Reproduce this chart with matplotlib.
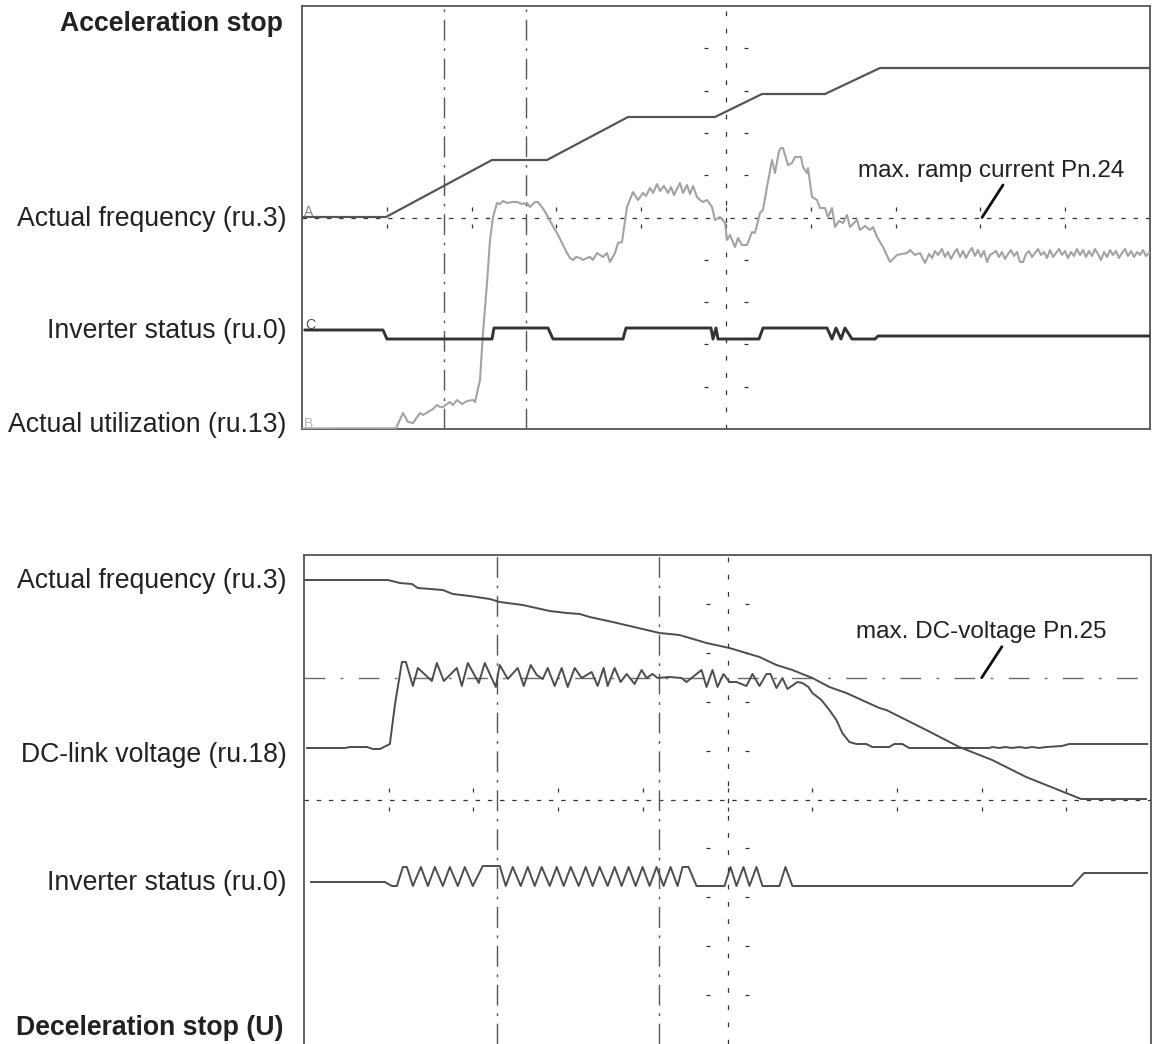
import matplotlib
matplotlib.use('Agg')
import matplotlib.pyplot as plt

plt.rcParams['font.family'] = ['Liberation Sans', 'DejaVu Sans']
plt.rcParams['lines.scale_dashes'] = False

# ---------------- data (time in samples, level in scope counts) ----------------
# Top panel: acceleration stop
acc_freq_t = [0, 84, 190, 245, 326, 413, 460, 523, 578, 848]
acc_freq_v = [212, 212, 269, 269, 312, 312, 335, 335, 361, 361]

acc_stat_t = [3, 81, 85, 190, 192, 246, 251, 321, 324, 409, 411, 414, 416, 457, 461,
              525, 530, 534, 539, 543, 550, 573, 576, 848]
acc_stat_v = [99, 99, 90, 90, 101, 101, 90, 90, 101, 101, 90, 101, 90, 90, 101,
              101, 90, 101, 90, 101, 90, 90, 93, 93]

acc_util_t = [0, 94, 101, 106, 111, 118, 121, 126, 131, 135, 138, 141, 145, 148, 151, 155, 160, 165,
              171, 173, 178, 181, 185, 188, 191, 195, 198, 201, 205, 210, 215, 220, 225, 228, 233, 236,
              242, 246, 253, 255, 260, 265, 268, 271, 274, 278, 281, 285, 288, 291, 295, 301, 305, 308,
              313, 316, 320, 325, 331, 336, 341, 344, 348, 351, 355, 358, 362, 366, 369, 372, 375, 378,
              381, 385, 388, 391, 395, 398, 401, 405, 410, 413, 418, 423, 425, 428, 433, 436, 440, 445,
              450, 453, 458, 461, 465, 470, 473, 477, 479, 481, 486, 490, 493, 499, 501, 505, 506, 510,
              515, 518, 523, 526, 530, 533, 537, 541, 545, 548, 555, 558, 563, 568, 571, 575, 578, 581,
              588, 595, 605, 608, 613, 618, 623, 627, 630, 633, 636, 640, 643, 646, 649, 652, 655, 658,
              661, 664, 667, 670, 673, 676, 679, 682, 685, 688, 691, 694, 697, 700, 703, 706, 709, 712,
              715, 718, 721, 724, 727, 730, 733, 736, 739, 742, 745, 748, 751, 754, 757, 760, 763, 766,
              769, 772, 775, 778, 781, 784, 787, 790, 793, 796, 799, 802, 805, 808, 811, 814, 817, 820,
              823, 826, 829, 832, 835, 838, 841, 844, 847]
acc_util_v = [0.5, 0.7, 16, 7, 6, 16, 14, 17, 20, 24, 22, 22, 25, 27, 24, 29, 25, 28,
              29, 27, 49, 96, 146, 189, 212, 226, 225, 228, 226, 227, 227, 225, 226, 222, 227, 227,
              219, 212, 199, 196, 186, 176, 171, 169, 172, 171, 169, 171, 172, 169, 176, 172, 176, 167,
              176, 186, 187, 222, 237, 229, 236, 233, 241, 236, 245, 238, 243, 236, 242, 234, 240, 246,
              236, 244, 235, 243, 232, 229, 227, 229, 222, 209, 212, 206, 189, 194, 182, 191, 184, 184,
              197, 196, 216, 219, 242, 269, 256, 278, 281, 281, 264, 266, 272, 272, 262, 256, 261, 232,
              229, 221, 221, 212, 221, 202, 208, 206, 214, 202, 209, 199, 203, 199, 202, 192, 187, 182,
              167, 174, 176, 179, 174, 176, 166, 175, 171, 178, 174, 180, 172, 177, 170, 176, 180, 172,
              178, 171, 177, 181, 173, 179, 172, 178, 167, 174, 176, 178, 172, 177, 170, 175, 179, 173,
              177, 167, 167, 175, 178, 172, 176, 180, 174, 177, 171, 179, 172, 176, 180, 174, 178, 171,
              177, 173, 180, 174, 179, 172, 178, 173, 180, 175, 169, 177, 172, 179, 174, 178, 171, 176,
              180, 173, 178, 172, 177, 174, 179, 173, 176]

acc_cursors = [142, 224]
ramp_current_level = 211.5

# Bottom panel: deceleration stop
dec_freq_t = [0, 84, 96, 108, 114, 139, 149, 166, 186, 196, 219, 246, 263, 276, 286, 309, 356, 376,
              403, 426, 456, 473, 489, 509, 526, 543, 576, 583, 623, 656, 689, 723, 763, 778, 843]
dec_freq_v = [464, 464, 461, 460, 456, 454, 450, 448, 445, 442, 439, 433, 431, 430, 427, 422, 411, 409,
              401, 396, 387, 379, 374, 366, 357, 351, 336, 334, 314, 297, 284, 267, 251, 245, 245]

dec_dc_t = [3, 41, 46, 63, 69, 76, 86, 91, 98, 102, 109, 114, 128, 133, 140, 153, 158, 164, 175, 181,
            192, 196, 204, 214, 220, 227, 233, 239, 244, 251, 258, 264, 271, 278, 288, 294, 300, 304,
            311, 317, 323, 331, 338, 343, 349, 354, 366, 378, 383, 398, 403, 409, 414, 420, 426, 433,
            443, 449, 456, 463, 467, 473, 479, 484, 494, 499, 505, 509, 518, 526, 533, 539, 546, 553,
            563, 569, 586, 591, 599, 606, 686, 689, 696, 702, 709, 716, 723, 729, 736, 743, 759, 766, 844]
dec_dc_v = [296, 296, 297, 297, 295, 295, 300, 339, 382, 382, 358, 376, 363, 381, 363, 376, 358, 381,
            361, 381, 357, 379, 365, 376, 358, 379, 369, 365, 376, 358, 376, 357, 376, 366, 372, 358,
            376, 358, 376, 362, 370, 360, 374, 366, 370, 366, 367, 366, 362, 374, 357, 374, 357, 370,
            362, 362, 358, 370, 358, 370, 370, 356, 366, 355, 362, 361, 357, 351, 344, 334, 324, 311,
            302, 300, 300, 297, 297, 300, 300, 296, 296, 297, 296, 297, 296, 297, 296, 297, 296, 297,
            298, 300, 300]

dec_stat_t = [7, 81, 88, 93, 99, 103, 109, 117, 124, 131, 139, 146, 154, 161, 169, 179, 196, 202,
              209, 217, 224, 231, 238, 246, 253, 260, 267, 275, 282, 289, 296, 304, 311, 318, 325,
              332, 339, 346, 353, 360, 367, 374, 379, 385, 393, 421, 427, 433, 440, 446, 453, 459,
              476, 482, 489, 769, 781, 844]
dec_stat_v = [162, 162, 158, 158, 177, 177, 158, 177, 158, 177, 158, 177, 158, 177, 158, 178, 178, 158,
              177, 158, 177, 158, 177, 158, 177, 158, 177, 158, 177, 158, 177, 158, 177, 158, 177,
              158, 177, 158, 177, 158, 177, 158, 177, 177, 158, 158, 177, 158, 177, 158, 177, 158,
              158, 177, 158, 158, 171, 171]

dec_cursors = [193, 355]
dc_voltage_level = 366.3

# ---------------- figure ----------------
W, H = 1152, 1044
fig = plt.figure(figsize=(W / 100, H / 100), dpi=100)

ax1 = fig.add_axes([302 / W, 1 - 429 / H, 848 / W, 423 / H])
ax2 = fig.add_axes([304 / W, 0, 847 / W, 489 / H])

GRID = '#333333'
DOT_H = (0, (3.2, 5.6))
DOT_V = (0, (3.4, 9.0))
DASHDOT = (0, (15, 5.5, 2, 5.5))


def scope(ax, xmax, ymax, hdots, vdots, tick_y, tick_x):
    ax.set_xlim(0, xmax)
    ax.set_ylim(0, ymax)
    ax.set_xticks([])
    ax.set_yticks([])
    for s in ax.spines.values():
        s.set_color('#555555')
        s.set_linewidth(1.3)
    dx, dy = xmax / 10, ymax / 10
    xc, yc = xmax / 2, ymax / 2
    ax.axhline(yc, color=GRID, lw=0.9, ls=hdots, zorder=1)
    ax.axvline(xc, color=GRID, lw=0.9, ls=vdots, zorder=1)
    xs = [k * dx for k in range(1, 10)]
    ys = [k * dy for k in range(1, 10) if k != 5]
    for sgn in (1, -1):
        ax.plot(xs, [yc + sgn * tick_y * dy] * len(xs), ls='none', marker='|',
                ms=3.4, mew=0.9, color=GRID, zorder=1)
        ax.plot([xc + sgn * tick_x * dx] * len(ys), ys, ls='none', marker='_',
                ms=3.4, mew=0.9, color=GRID, zorder=1)


scope(ax1, 848, 423, DOT_H, DOT_V, 0.2, 0.23)
scope(ax2, 848, 489, DOT_H, DOT_V, 0.2, 0.23)
ax2.spines['bottom'].set_visible(False)

# cursors
for c in acc_cursors:
    ax1.axvline(c, color='#555555', lw=1.0, ls=DASHDOT, zorder=1)
for c in dec_cursors:
    ax2.axvline(c, color='#555555', lw=1.0, ls=DASHDOT, zorder=1)
ax2.axhline(dc_voltage_level, color='#6a6a6a', lw=1.0,
            ls=(0, (15, 11, 2, 11)), zorder=1)

# top traces
ax1.plot(acc_util_t, acc_util_v, color='#a3a3a3', lw=1.5, zorder=3)
ax1.plot(acc_freq_t, acc_freq_v, color='#555555', lw=1.6, zorder=4)
ax1.plot(acc_stat_t, acc_stat_v, color='#333333', lw=2.1, zorder=4)

# bottom traces
ax2.plot(dec_freq_t, dec_freq_v, color='#4d4d4d', lw=1.4, zorder=3)
ax2.plot(dec_dc_t, dec_dc_v, color='#4d4d4d', lw=1.4, zorder=3)
ax2.plot(dec_stat_t, dec_stat_v, color='#4d4d4d', lw=1.4, zorder=3)

# channel letters
ax1.text(2, ramp_current_level + 1, 'A', fontsize=10, color='#888888', va='baseline')
ax1.text(3, 100, 'C', fontsize=10, color='#555555', va='baseline')
ax1.text(2, 0.5, 'B', fontsize=10, color='#b5b5b5', va='baseline', clip_on=False)

# annotations
ax1.text(556, 252, 'max. ramp current Pn.24', fontsize=17.5, color='#222222', va='baseline')
ax1.annotate('', xy=(680, ramp_current_level), xytext=(701, 244),
             arrowprops=dict(arrowstyle='-', lw=2, color='#111111', shrinkA=0, shrinkB=0))
ax2.text(553, 405.7, 'max. DC-voltage Pn.25', fontsize=17.5, color='#222222', va='baseline')
ax2.annotate('', xy=(678.5, dc_voltage_level), xytext=(698.7, 397.3),
             arrowprops=dict(arrowstyle='-', lw=2, color='#111111', shrinkA=0, shrinkB=0))

# left labels
labels = [
    ('Acceleration stop', 283, 30.7, 'bold'),
    ('Actual frequency (ru.3)', 286.7, 226, 'normal'),
    ('Inverter status (ru.0)', 286.7, 338.3, 'normal'),
    ('Actual utilization (ru.13)', 286.7, 431.7, 'normal'),
    ('Actual frequency (ru.3)', 286.7, 588.3, 'normal'),
    ('DC-link voltage (ru.18)', 286.7, 762.3, 'normal'),
    ('Inverter status (ru.0)', 286.7, 890, 'normal'),
    ('Deceleration stop (U)', 283.3, 1035, 'bold'),
]
for txt, x, y, w in labels:
    fig.text(x / W, 1 - y / H, txt, ha='right', va='baseline', fontsize=19.2,
             fontweight=w, color='#222222')

fig.savefig('out.png', dpi=100)
